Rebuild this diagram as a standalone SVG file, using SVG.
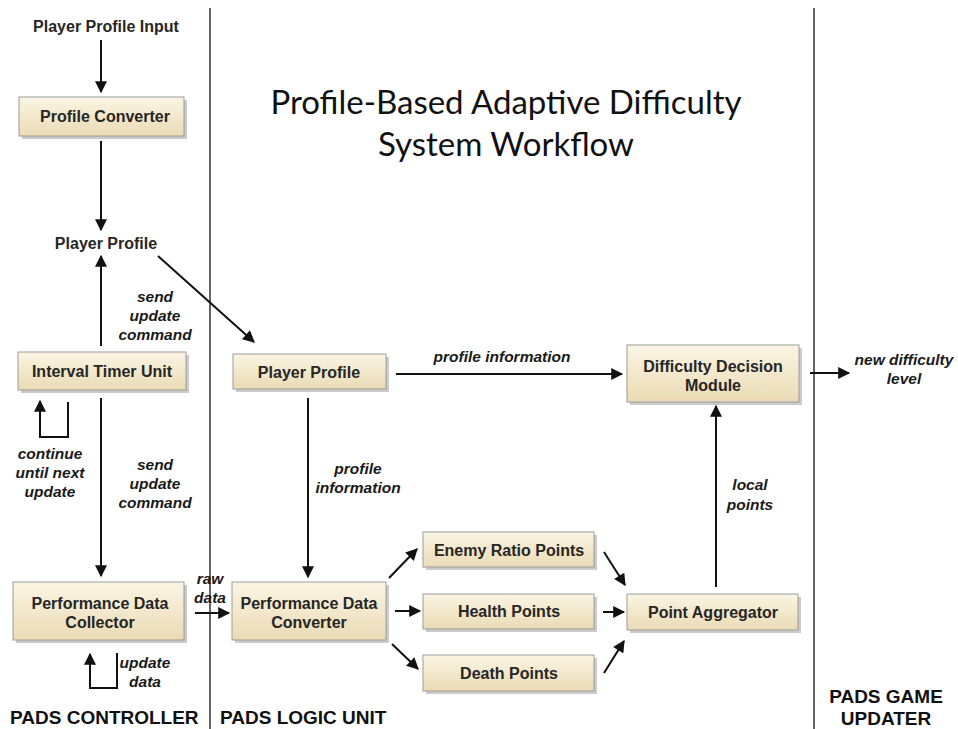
<svg xmlns="http://www.w3.org/2000/svg" width="958" height="729" viewBox="0 0 958 729">
<defs>
<linearGradient id="bx" x1="0" y1="0" x2="0" y2="1">
<stop offset="0" stop-color="#fbf5e4"/>
<stop offset="1" stop-color="#eadbb4"/>
</linearGradient>
<marker id="ah" viewBox="0 0 10 10" refX="9" refY="5" markerWidth="6.5" markerHeight="6" orient="auto" markerUnits="strokeWidth">
<path d="M0,0 L10,5 L0,10 z" fill="#111"/>
</marker>
<style>
.box{fill:url(#bx);stroke:#9c9c9c;stroke-width:1}
.sh{fill:#a8a8a8;opacity:0.6}
.bt{font-family:"Liberation Sans",Arial,sans-serif;font-weight:bold;font-size:16px;fill:#262626;text-anchor:middle}
.lb{font-family:"Liberation Sans",Arial,sans-serif;font-weight:bold;font-style:italic;font-size:15.5px;fill:#1a1a1a;text-anchor:middle}
.hd{font-family:"Liberation Sans",Arial,sans-serif;font-weight:bold;font-size:19px;fill:#111}
.tt{font-family:"Lato","Open Sans",sans-serif;font-size:33px;font-weight:400;fill:#111;text-anchor:middle}
.ln{stroke:#111;stroke-width:2;fill:none}
.ar{stroke:#111;stroke-width:2;fill:none;marker-end:url(#ah)}
.sep{stroke:#111;stroke-width:1.3}
</style>
</defs>
<rect width="958" height="729" fill="#fff"/>
<line class="sep" x1="210" y1="8" x2="210" y2="729"/>
<line class="sep" x1="814" y1="8" x2="814" y2="729"/>
<text class="tt" x="506" y="114">Profile-Based Adaptive Difficulty</text>
<text class="tt" x="506" y="156">System Workflow</text>

<g id="input"><text class="bt" x="106" y="32">Player Profile Input</text></g>
<g id="profileConverter"><rect class="sh" x="22" y="100" width="165" height="39"/><rect class="box" x="19" y="97" width="165" height="39"/><text class="bt" x="105" y="122">Profile Converter</text></g>
<g id="playerProfileLeft"><text class="bt" x="106" y="249">Player Profile</text></g>
<g id="intervalTimer"><rect class="sh" x="21" y="355" width="168" height="38"/><rect class="box" x="18" y="352" width="168" height="38"/><text class="bt" x="102" y="377">Interval Timer Unit</text></g>
<g id="perfCollector"><rect class="sh" x="16" y="585" width="171" height="58"/><rect class="box" x="13" y="582" width="171" height="58"/><text class="bt" x="100" y="609">Performance Data</text><text class="bt" x="100" y="628">Collector</text></g>
<g id="playerProfileRight"><rect class="sh" x="236" y="357" width="153" height="35"/><rect class="box" x="233" y="354" width="153" height="35"/><text class="bt" x="309" y="378">Player Profile</text></g>
<g id="perfConverter"><rect class="sh" x="235" y="585" width="154" height="58"/><rect class="box" x="232" y="582" width="154" height="58"/><text class="bt" x="309" y="609">Performance Data</text><text class="bt" x="309" y="628">Converter</text></g>
<g id="enemyRatio"><rect class="sh" x="426" y="535" width="171" height="35"/><rect class="box" x="423" y="532" width="171" height="35"/><text class="bt" x="509" y="556">Enemy Ratio Points</text></g>
<g id="healthPoints"><rect class="sh" x="426" y="597" width="171" height="35"/><rect class="box" x="423" y="594" width="171" height="35"/><text class="bt" x="509" y="617">Health Points</text></g>
<g id="deathPoints"><rect class="sh" x="426" y="658" width="171" height="36"/><rect class="box" x="423" y="655" width="171" height="36"/><text class="bt" x="509" y="679">Death Points</text></g>
<g id="pointAggregator"><rect class="sh" x="630" y="597" width="171" height="36"/><rect class="box" x="627" y="594" width="171" height="36"/><text class="bt" x="713" y="618">Point Aggregator</text></g>
<g id="ddm"><rect class="sh" x="630" y="348" width="172" height="57"/><rect class="box" x="627" y="345" width="172" height="57"/><text class="bt" x="713" y="372">Difficulty Decision</text><text class="bt" x="713" y="391">Module</text></g>

<g id="headers">
<text class="hd" x="10" y="724">PADS CONTROLLER</text>
<text class="hd" x="220" y="724">PADS LOGIC UNIT</text>
<text class="hd" x="886" y="703" text-anchor="middle">PADS GAME</text>
<text class="hd" x="886" y="725" text-anchor="middle">UPDATER</text>
</g>

<g id="connectors">
<line class="ar" x1="101" y1="40" x2="101" y2="92"/>
<line class="ar" x1="101" y1="141" x2="101" y2="230"/>
<line class="ar" x1="101" y1="346" x2="101" y2="256"/>
<line class="ar" x1="158" y1="256" x2="254" y2="342"/>
<line class="ar" x1="101" y1="398" x2="101" y2="576"/>
<path class="ar" d="M68,402 V437 H40 V401"/>
<path class="ar" d="M117,653 V688 H90 V654"/>
<line class="ar" x1="195" y1="613" x2="229" y2="613"/>
<line class="ar" x1="308" y1="398" x2="308" y2="577"/>
<line class="ar" x1="396" y1="374" x2="622" y2="374"/>
<line class="ar" x1="389" y1="578" x2="417" y2="549"/>
<line class="ar" x1="395" y1="611" x2="420" y2="611"/>
<line class="ar" x1="392" y1="644" x2="418" y2="669"/>
<line class="ar" x1="604" y1="552" x2="625" y2="585"/>
<line class="ar" x1="603" y1="612" x2="624" y2="612"/>
<line class="ar" x1="604" y1="673" x2="624" y2="641"/>
<line class="ar" x1="716" y1="587" x2="716" y2="406"/>
<line class="ar" x1="810" y1="373" x2="849" y2="373"/>
</g>

<g id="labels">
<text class="lb" x="155" y="302">send</text>
<text class="lb" x="155" y="321">update</text>
<text class="lb" x="155" y="340">command</text>
<text class="lb" x="50" y="459">continue</text>
<text class="lb" x="50" y="478">until next</text>
<text class="lb" x="50" y="497">update</text>
<text class="lb" x="155" y="470">send</text>
<text class="lb" x="155" y="489">update</text>
<text class="lb" x="155" y="508">command</text>
<text class="lb" x="145" y="668">update</text>
<text class="lb" x="145" y="687">data</text>
<text class="lb" x="210" y="584">raw</text>
<text class="lb" x="210" y="603">data</text>
<text class="lb" x="358" y="474">profile</text>
<text class="lb" x="358" y="493">information</text>
<text class="lb" x="502" y="362">profile information</text>
<text class="lb" x="750" y="490">local</text>
<text class="lb" x="750" y="510">points</text>
<text class="lb" x="904" y="365">new difficulty</text>
<text class="lb" x="904" y="384">level</text>
</g>
</svg>
